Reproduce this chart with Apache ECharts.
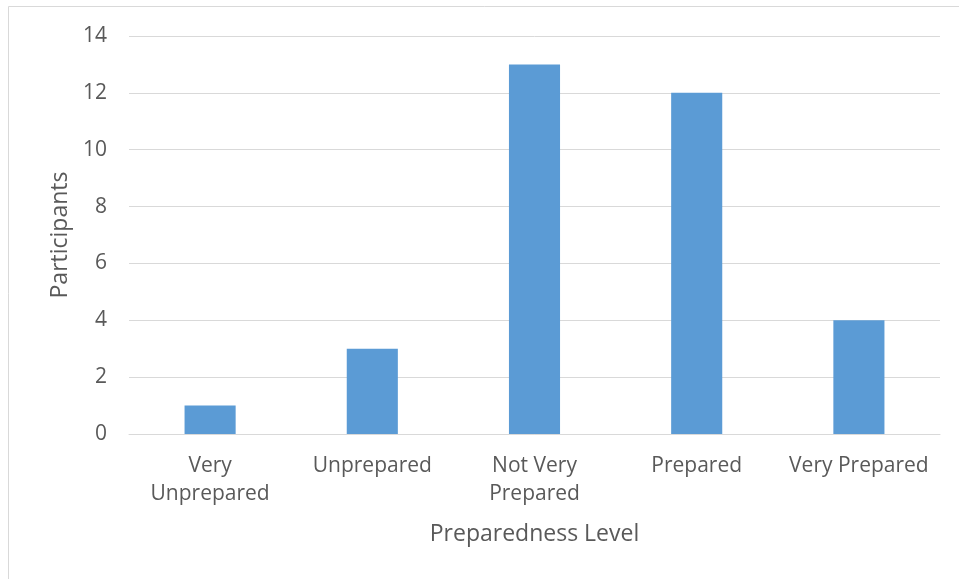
<!DOCTYPE html>
<html>
<head>
<meta charset="utf-8">
<script src="https://cdn.jsdelivr.net/npm/echarts@6/dist/echarts.min.js"></script>
<style>
  html, body { margin: 0; padding: 0; background: #ffffff; }
  #chart { width: 959px; height: 579px; }
</style>
</head>
<body>
<div id="chart"></div>
<script>
// Survey results: how prepared participants felt
const categories = ['Very\nUnprepared', 'Unprepared', 'Not Very\nPrepared', 'Prepared', 'Very Prepared'];
const participants = [1, 3, 13, 12, 4];
const yTicks = { min: 0, max: 14, interval: 2 };

const textColor = '#595959';
const fontFamily = '"Open Sans", sans-serif';

const chart = echarts.init(document.getElementById('chart'), null, { renderer: 'canvas' });
chart.setOption({
  animation: false,
  backgroundColor: '#ffffff',
  textStyle: { fontFamily: fontFamily, color: textColor },
  graphic: [{
    type: 'rect',
    shape: { x: 8.5, y: 6.5, width: 1000, height: 700 },
    style: { fill: 'none', stroke: '#D9D9D9', lineWidth: 1 },
    silent: true
  }],
  grid: { left: 129, right: 19, top: 36, bottom: 145 },
  xAxis: {
    type: 'category',
    data: categories,
    name: 'Preparedness Level',
    nameLocation: 'middle',
    nameGap: 89,
    nameTextStyle: { fontSize: 23, color: textColor, fontFamily: fontFamily },
    axisLine: { show: true, lineStyle: { color: '#D9D9D9', width: 1 } },
    axisTick: { show: false },
    axisLabel: { fontSize: 21, color: textColor, lineHeight: 28, margin: 18, interval: 0, fontFamily: fontFamily }
  },
  yAxis: {
    type: 'value',
    min: yTicks.min,
    max: yTicks.max,
    interval: yTicks.interval,
    name: 'Participants',
    nameLocation: 'middle',
    nameGap: 56,
    nameTextStyle: { fontSize: 23, color: textColor, fontFamily: fontFamily },
    axisLine: { show: false },
    axisTick: { show: false },
    axisLabel: { fontSize: 21, color: textColor, margin: 22, fontFamily: fontFamily },
    splitLine: { lineStyle: { color: '#D9D9D9', width: 1 } }
  },
  series: [{
    type: 'bar',
    data: participants,
    barWidth: '31.5%',
    itemStyle: { color: '#5B9BD5' }
  }]
});
</script>
</body>
</html>
